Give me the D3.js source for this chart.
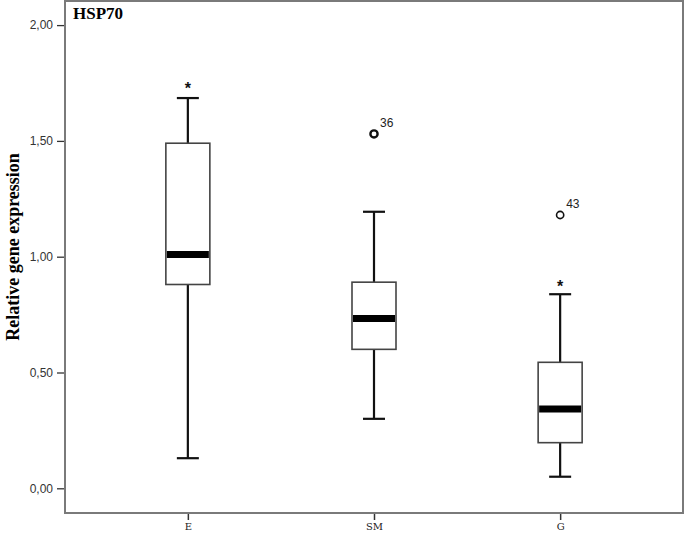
<!DOCTYPE html>
<html>
<head>
<meta charset="utf-8">
<script src="https://cdn.jsdelivr.net/npm/d3@7"></script>
<style>
  body { margin: 0; background: #fff; }
  svg { display: block; }
</style>
</head>
<body>
<script>
// box plot data
var groups = ["E", "SM", "G"];
var whiskerLow = [0.13, 0.30, 0.05];
var q1 = [0.88, 0.60, 0.197];
var medians = [1.01, 0.733, 0.342];
var q3 = [1.49, 0.89, 0.544];
var whiskerHigh = [1.685, 1.194, 0.838];
// outliers: circles with case numbers, stars for extremes
var outlierGroups = ["SM", "G"];
var outlierValues = [1.53, 1.18];
var outlierIds = ["36", "43"];
var extremeGroups = ["E", "G"];
var extremeValues = [1.739, 0.881];
var yTicks = [0, 0.5, 1, 1.5, 2];

var W = 685, H = 539;
var plotLeft = 65, plotRight = 683, plotTop = 1, plotBottom = 513;

var svg = d3.select("body").append("svg")
    .attr("width", W)
    .attr("height", H);

var x = d3.scalePoint()
    .domain(groups)
    .range([plotLeft, plotRight])
    .padding(0.66);

var y = d3.scaleLinear()
    .domain([0, 2])
    .range([488.3, 25.1]);

var data = groups.map((g, i) => ({
    g: g, lo: whiskerLow[i], q1: q1[i], med: medians[i], q3: q3[i], hi: whiskerHigh[i]
}));

var boxW = 44, capW = 22;

// frame
svg.append("rect")
    .attr("x", plotLeft).attr("y", plotTop)
    .attr("width", plotRight - plotLeft).attr("height", plotBottom - plotTop)
    .attr("fill", "none")
    .attr("stroke", "#7a7a7a")
    .attr("stroke-width", 2);

// y axis
var yAxis = d3.axisLeft(y)
    .tickValues(yTicks)
    .tickSize(7)
    .tickPadding(4)
    .tickFormat(d3.format(".2f"));
var ya = svg.append("g")
    .attr("transform", `translate(${plotLeft - 1},0)`)
    .call(yAxis);
ya.select(".domain").remove();
ya.selectAll("line").attr("stroke", "#333").attr("stroke-width", 1.3);
ya.selectAll("text")
    .text((d) => d3.format(".2f")(d).replace(".", ","))
    .attr("font-family", "Liberation Sans, Arial, sans-serif")
    .attr("font-size", "12px")
    .attr("fill", "#333");

// x axis
var xAxis = d3.axisBottom(x).tickSize(6).tickPadding(3);
var xa = svg.append("g")
    .attr("transform", `translate(0,${plotBottom + 1})`)
    .call(xAxis);
xa.select(".domain").remove();
xa.selectAll("line").attr("stroke", "#333").attr("stroke-width", 1.5);
xa.selectAll("text")
    .attr("font-family", "DejaVu Serif, serif")
    .attr("font-size", "10px")
    .attr("fill", "#222");

// whiskers
var wk = svg.append("g");
wk.selectAll(".stem")
    .data(data).enter().append("line")
    .attr("x1", (d) => x(d.g)).attr("x2", (d) => x(d.g))
    .attr("y1", (d) => y(d.lo)).attr("y2", (d) => y(d.hi))
    .attr("stroke", "#111").attr("stroke-width", 2.2);
["lo", "hi"].forEach((k) => {
    wk.selectAll(".cap-" + k)
        .data(data).enter().append("line")
        .attr("x1", (d) => x(d.g) - capW / 2).attr("x2", (d) => x(d.g) + capW / 2)
        .attr("y1", (d) => y(d[k])).attr("y2", (d) => y(d[k]))
        .attr("stroke", "#111").attr("stroke-width", 2.2);
});

// boxes
svg.selectAll(".box")
    .data(data).enter().append("rect")
    .attr("x", (d) => x(d.g) - boxW / 2)
    .attr("y", (d) => y(d.q3))
    .attr("width", boxW)
    .attr("height", (d) => y(d.q1) - y(d.q3))
    .attr("fill", "#fff")
    .attr("stroke", "#444")
    .attr("stroke-width", 1.6);

svg.selectAll(".med")
    .data(data).enter().append("line")
    .attr("x1", (d) => x(d.g) - boxW / 2 + 1).attr("x2", (d) => x(d.g) + boxW / 2 - 1)
    .attr("y1", (d) => y(d.med)).attr("y2", (d) => y(d.med))
    .attr("stroke", "#000").attr("stroke-width", 7);

// outliers
svg.selectAll(".out")
    .data(outlierValues).enter().append("circle")
    .attr("cx", (d, i) => x(outlierGroups[i]))
    .attr("cy", (d) => y(d))
    .attr("r", 3.6)
    .attr("fill", "none")
    .attr("stroke", "#111")
    .attr("stroke-width", (d, i) => i == 0 ? 2.4 : 1.6);

svg.selectAll(".outlab")
    .data(outlierValues).enter().append("text")
    .attr("x", (d, i) => x(outlierGroups[i]) + 6)
    .attr("y", (d) => y(d) - 7)
    .text((d, i) => outlierIds[i])
    .attr("font-family", "Liberation Sans, Arial, sans-serif")
    .attr("font-size", "12px")
    .attr("fill", "#222");

svg.selectAll(".ext")
    .data(extremeValues).enter().append("text")
    .attr("x", (d, i) => x(extremeGroups[i]))
    .attr("y", (d) => y(d) + 8)
    .attr("text-anchor", "middle")
    .text("*")
    .attr("font-family", "Liberation Sans, Arial, sans-serif")
    .attr("font-weight", "bold")
    .attr("font-size", "16px")
    .attr("fill", "#111");

// title and y label
svg.append("text")
    .attr("x", 73).attr("y", 19)
    .text("HSP70")
    .attr("font-family", "Liberation Serif, Times New Roman, serif")
    .attr("font-weight", "bold")
    .attr("font-size", "17px")
    .attr("fill", "#000");

svg.append("text")
    .attr("transform", "translate(19,247) rotate(-90)")
    .attr("text-anchor", "middle")
    .text("Relative gene expression")
    .attr("font-family", "Liberation Serif, Times New Roman, serif")
    .attr("font-weight", "bold")
    .attr("font-size", "18px")
    .attr("fill", "#000");
</script>
</body>
</html>
